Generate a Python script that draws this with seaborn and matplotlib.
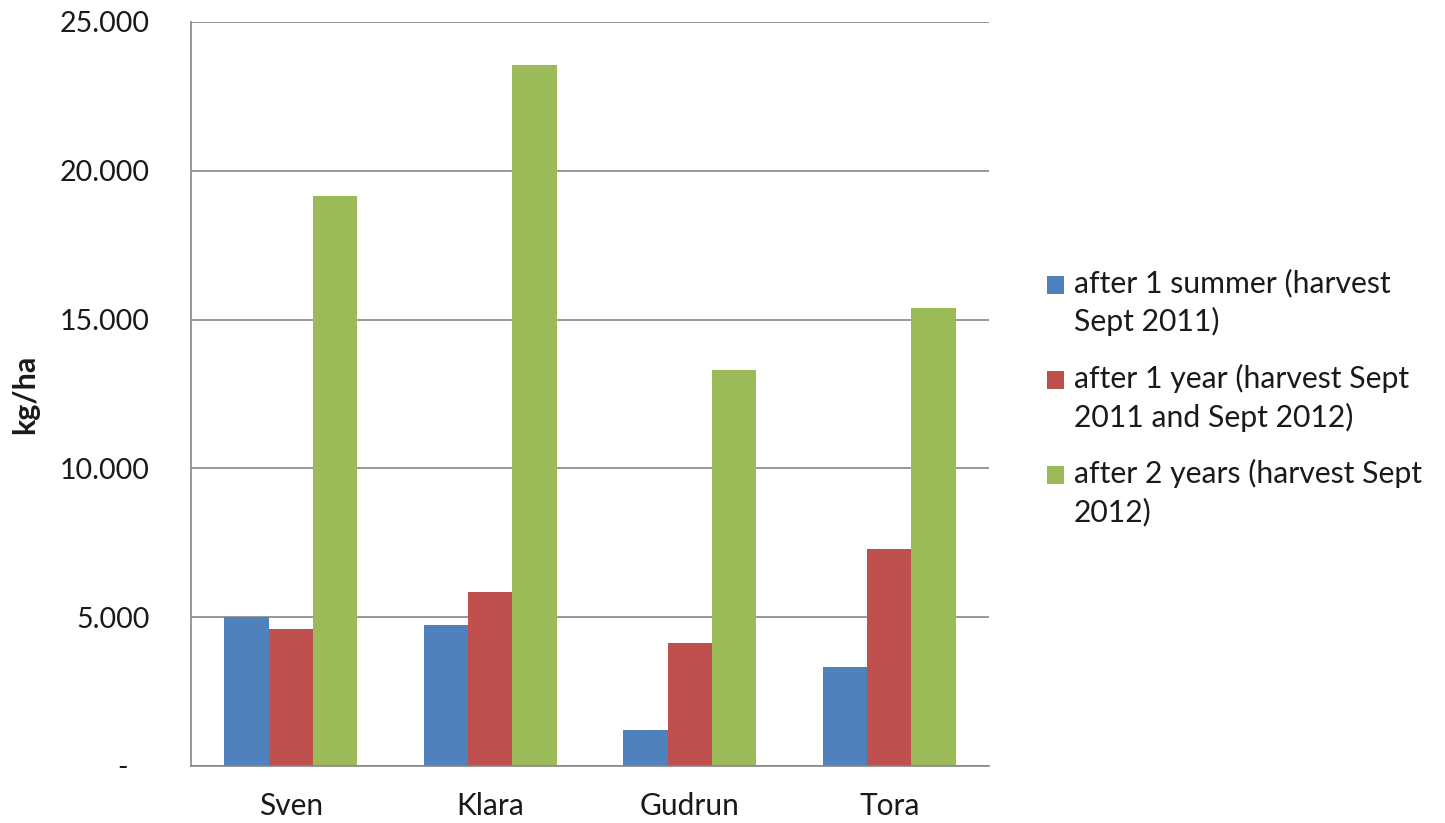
import matplotlib
matplotlib.use("Agg")
import matplotlib.pyplot as plt
from matplotlib.patches import Rectangle
from matplotlib.legend_handler import HandlerPatch
from matplotlib.ticker import FuncFormatter, FixedLocator
import seaborn as sns
import pandas as pd

categories = ["Sven", "Klara", "Gudrun", "Tora"]
series_names = [
    "after 1 summer (harvest\nSept 2011)",
    "after 1 year (harvest Sept\n2011 and Sept 2012)",
    "after 2 years (harvest Sept\n2012)",
]
after_1_summer = [5000, 4730, 1210, 3310]
after_1_year = [4590, 5860, 4140, 7290]
after_2_years = [19140, 23560, 13300, 15400]
colors = ["#4F81BD", "#C0504D", "#9BBB59"]
y_ticks = [0, 5000, 10000, 15000, 20000, 25000]

rows = []
for name, vals in zip(series_names, [after_1_summer, after_1_year, after_2_years]):
    for c, v in zip(categories, vals):
        rows.append({"name": c, "value": v, "series": name})
df = pd.DataFrame(rows)

sns.set_style("white")
plt.rcParams["font.family"] = ["Lato", "DejaVu Sans"]

fig = plt.figure(figsize=(14.45, 8.23), dpi=100)
ax = fig.add_axes([191 / 1445, 57 / 823, 798 / 1445, 744 / 823])

sns.barplot(data=df, x="name", y="value", hue="series", palette=colors,
            hue_order=series_names, order=categories, width=0.665,
            saturation=1, ax=ax, legend=True, edgecolor="none", linewidth=0)

ax.set_xlim(-0.5, 3.5)
ax.set_ylim(0, 25000)
ax.yaxis.set_major_locator(FixedLocator(y_ticks))
ax.yaxis.set_major_formatter(FuncFormatter(
    lambda v, p: "-   " if v == 0 else f"{int(v):,}".replace(",", ".")))
ax.grid(axis="y", color="#868686", linewidth=1.2)
ax.set_axisbelow(True)
for s in ["top", "right"]:
    ax.spines[s].set_visible(False)
for s in ["left", "bottom"]:
    ax.spines[s].set_color("#868686")
    ax.spines[s].set_linewidth(1.2)

ax.set_xticks([-0.5, 0.5, 1.5, 2.5, 3.5], minor=True)
ax.tick_params(axis="x", which="major", length=0, pad=19, labelsize=21.5, labelcolor="#1a1a1a")
ax.tick_params(axis="x", which="minor", length=7, width=1.2, color="#868686", direction="out")
ax.tick_params(axis="y", which="major", length=11, width=1.2, color="#868686",
               direction="inout", labelsize=20.5, labelcolor="#1a1a1a", pad=24)
ax.set_xlabel("")
ax.set_ylabel("kg/ha", fontsize=22, fontweight="bold", labelpad=15, color="#1a1a1a")

handles, labels = ax.get_legend_handles_labels()
ax.get_legend().remove()

shift_pt = 18.5 * 72 / 100


def make_patch(legend, orig_handle, xdescent, ydescent, width, height, fontsize):
    return Rectangle((-xdescent, -ydescent + shift_pt), width, height)


leg = fig.legend(handles, labels, loc="upper left", bbox_to_anchor=(1035 / 1445, 1 - 257 / 823),
                 frameon=False, fontsize=21.7, handlelength=0.56, handleheight=0.56,
                 handletextpad=0.33, labelspacing=0.91, borderaxespad=0,
                 handler_map={Rectangle: HandlerPatch(patch_func=make_patch)})
for t in leg.get_texts():
    t.set_linespacing(1.4)
    t.set_color("#1a1a1a")

fig.savefig("out.png", dpi=100)
